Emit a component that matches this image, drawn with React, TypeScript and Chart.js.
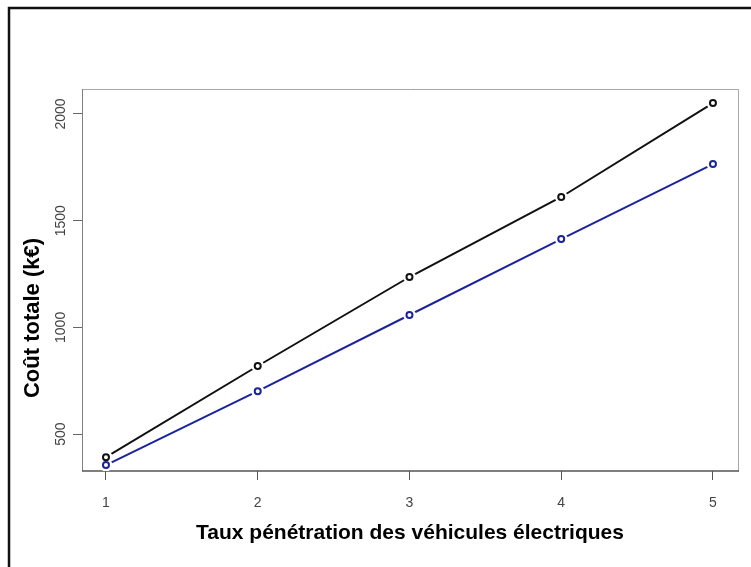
import React, { useEffect, useRef } from "react";
import { Chart, registerables } from "chart.js";

Chart.register(...registerables);

// ---- data ----
const penetrationRates = [1, 2, 3, 4, 5];
const costBlack = [392, 819, 1236, 1611, 2051];
const costBlue = [355, 701, 1058, 1414, 1765];
const xTickValues = [1, 2, 3, 4, 5];
const yTickValues = [500, 1000, 1500, 2000];
const xTitle = "Taux pénétration des véhicules électriques";
const yTitle = "Coût totale (k€)";

const W = 751;
const H = 567;

const toPoints = (ys: number[]) => penetrationRates.map((x, i) => ({ x, y: ys[i] }));

const framePlugin = {
  id: "frameAndBox",
  beforeDatasetsDraw(chart: any) {
    const { ctx, chartArea: a } = chart;
    ctx.save();
    ctx.lineWidth = 1;
    ctx.strokeStyle = "#a8a8a8";
    ctx.beginPath();
    ctx.moveTo(a.left, a.top + 0.5);
    ctx.lineTo(a.right + 0.5, a.top + 0.5);
    ctx.lineTo(a.right + 0.5, a.bottom);
    ctx.stroke();
    ctx.strokeStyle = "#808080";
    ctx.beginPath();
    ctx.moveTo(a.left + 0.5, a.top);
    ctx.lineTo(a.left + 0.5, a.bottom);
    ctx.stroke();
    ctx.strokeStyle = "#555555";
    ctx.lineWidth = 1.5;
    ctx.beginPath();
    ctx.moveTo(a.left, a.bottom);
    ctx.lineTo(a.right + 1, a.bottom);
    ctx.stroke();
    ctx.restore();
  },
  afterDraw(chart: any) {
    const { ctx } = chart;
    ctx.save();
    // outer frame (left and top)
    ctx.strokeStyle = "#111";
    ctx.lineWidth = 2.5;
    ctx.beginPath();
    ctx.moveTo(9, H);
    ctx.lineTo(9, 8);
    ctx.lineTo(W, 8);
    ctx.stroke();
    // y axis title
    ctx.translate(33, 318);
    ctx.rotate(-Math.PI / 2);
    ctx.fillStyle = "#000";
    ctx.font = "bold 22px 'Liberation Sans', Arial, sans-serif";
    ctx.textAlign = "center";
    ctx.textBaseline = "middle";
    ctx.fillText(yTitle, 0, 0);
    ctx.restore();
  },
};

export default function App() {
  const ref = useRef<HTMLCanvasElement>(null);
  useEffect(() => {
    if (!ref.current) return;
    const chart = new Chart(ref.current, {
      type: "line",
      data: {
        datasets: [
          {
            label: "markersBlack",
            data: toPoints(costBlack),
            showLine: false,
            pointRadius: 3,
            pointBorderWidth: 2,
            pointBorderColor: "#111111",
            pointBackgroundColor: "#ffffff",
            order: 0,
          },
          {
            label: "markersBlue",
            data: toPoints(costBlue),
            showLine: false,
            pointRadius: 3,
            pointBorderWidth: 2,
            pointBorderColor: "#1a239e",
            pointBackgroundColor: "#ffffff",
            order: 0,
          },
          {
            label: "gapBlack",
            data: toPoints(costBlack),
            showLine: false,
            pointRadius: 6.5,
            pointBorderWidth: 0,
            pointBorderColor: "#ffffff",
            pointBackgroundColor: "#ffffff",
            order: 1,
          },
          {
            label: "gapBlue",
            data: toPoints(costBlue),
            showLine: false,
            pointRadius: 6.5,
            pointBorderWidth: 0,
            pointBorderColor: "#ffffff",
            pointBackgroundColor: "#ffffff",
            order: 1,
          },
          {
            label: "lineBlack",
            data: toPoints(costBlack),
            borderColor: "#111111",
            borderWidth: 2,
            pointRadius: 0,
            tension: 0,
            order: 2,
          },
          {
            label: "lineBlue",
            data: toPoints(costBlue),
            borderColor: "#1a239e",
            borderWidth: 2,
            pointRadius: 0,
            tension: 0,
            order: 2,
          },
        ],
      },
      options: {
        animation: false,
        responsive: false,
        devicePixelRatio: 1,
        layout: { padding: { top: 89, right: 13, left: 0, bottom: 0 } },
        plugins: { legend: { display: false }, tooltip: { enabled: false } },
        elements: { point: { hoverRadius: 0 } },
        scales: {
          x: {
            type: "linear",
            min: 0.842,
            max: 5.165,
            afterBuildTicks: (s: any) => {
              s.ticks = xTickValues.map((v) => ({ value: v }));
            },
            afterFit: (s: any) => {
              s.height = H - 471;
            },
            border: { display: false },
            grid: {
              display: true,
              drawOnChartArea: false,
              drawTicks: true,
              tickLength: 9,
              tickColor: "#555555",
              tickWidth: 1,
            },
            ticks: {
              color: "#444444",
              padding: 15,
              font: { family: "'Liberation Sans', Arial, sans-serif", size: 14 },
              callback: (v: any) => String(v),
            },
            title: {
              display: true,
              text: xTitle,
              color: "#000000",
              font: { family: "'Liberation Sans', Arial, sans-serif", size: 21, weight: "bold" },
              padding: { top: 0, bottom: 21 },
            },
          },
          y: {
            type: "linear",
            min: 327,
            max: 2117,
            afterBuildTicks: (s: any) => {
              s.ticks = yTickValues.map((v) => ({ value: v }));
            },
            afterFit: (s: any) => {
              s.width = 82;
            },
            border: { display: false },
            grid: {
              display: true,
              drawOnChartArea: false,
              drawTicks: true,
              tickLength: 9,
              tickColor: "#666666",
              tickWidth: 1,
            },
            ticks: {
              color: "#444444",
              padding: -4,
              minRotation: 90,
              maxRotation: 90,
              crossAlign: "center",
              font: { family: "'Liberation Sans', Arial, sans-serif", size: 14 },
              callback: (v: any) => String(v),
            },
          },
        },
      },
      plugins: [framePlugin],
    } as any);
    return () => chart.destroy();
  }, []);
  return (
    <div style={{ position: "absolute", left: 0, top: 0, width: W, height: H, background: "#fff" }}>
      <canvas ref={ref} width={W} height={H} style={{ width: W, height: H, display: "block" }} />
    </div>
  );
}
